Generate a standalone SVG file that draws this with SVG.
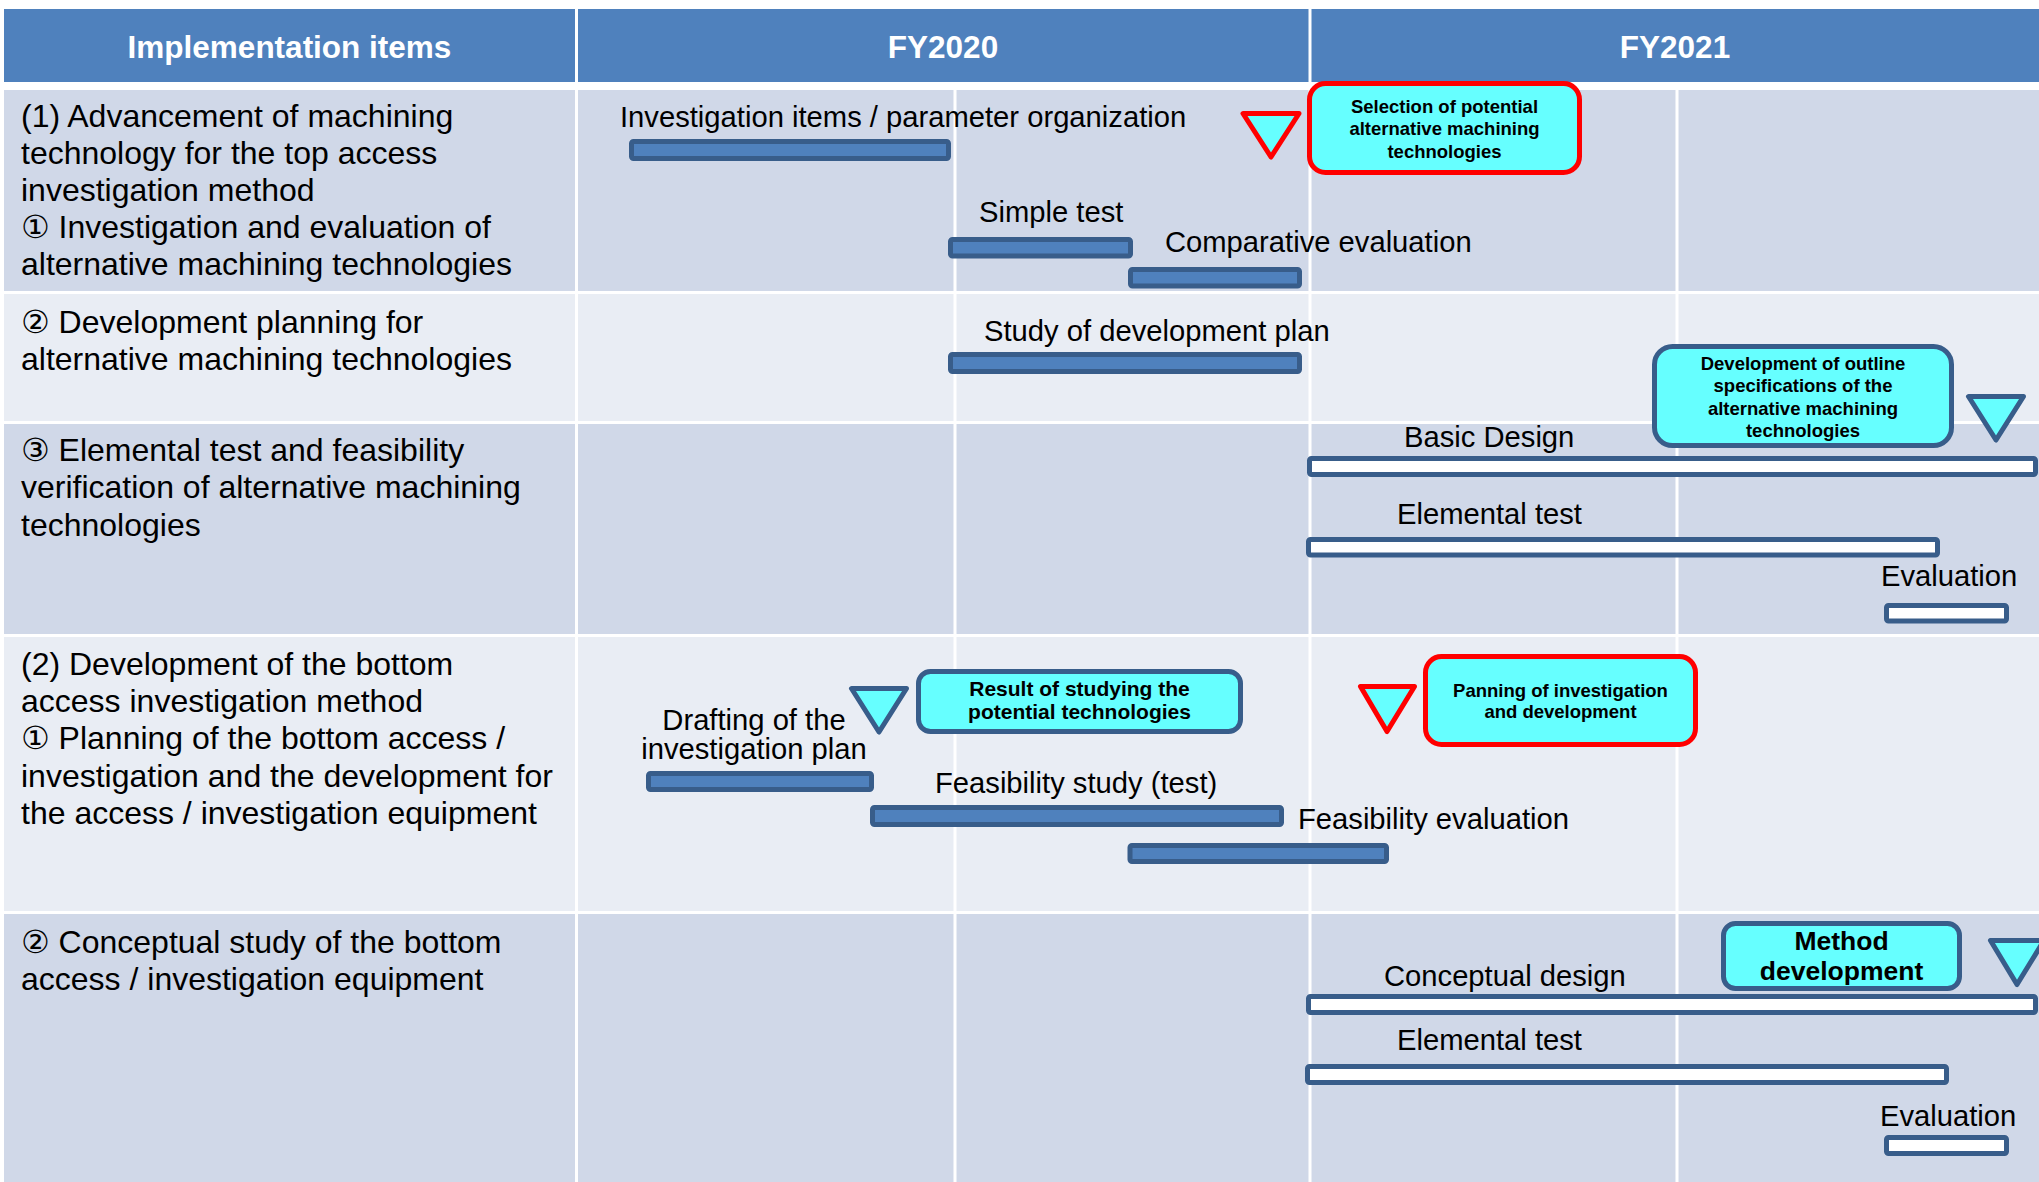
<svg xmlns="http://www.w3.org/2000/svg" width="2039" height="1182" viewBox="0 0 2039 1182">
<style>
text{font-family:"Liberation Sans",Arial,"DejaVu Sans",sans-serif;fill:#000}
.hd{fill:#4F81BD}
.hdt{font-size:31.5px;font-weight:bold;fill:#fff;text-anchor:middle}
.dk{fill:#D0D8E8}
.lt{fill:#E9EDF4}
.vl{stroke:#fff;stroke-width:3}
.item{font-size:32px}
.cd{font-family:"DejaVu Sans",sans-serif}
.lbl{font-size:29.2px}
.bar{fill:#4F81BD;stroke:#385D8A;stroke-width:5}
.wbar{fill:#fff;stroke:#385D8A;stroke-width:5}
.rbox{fill:#66FFFF;stroke:#FF0000;stroke-width:5}
.bbox{fill:#66FFFF;stroke:#385D8A;stroke-width:5}
.rtri{fill:#66FFFF;stroke:#FF0000;stroke-width:5;stroke-linejoin:round}
.btri{fill:#66FFFF;stroke:#385D8A;stroke-width:5;stroke-linejoin:round}
.bt{font-size:18.5px;font-weight:bold;text-anchor:middle}
</style>
<rect width="2039" height="1182" fill="#fff"/>
<g id="header">
<rect class="hd" x="4" y="9" width="571" height="73"/>
<rect class="hd" x="578" y="9" width="730.5" height="73"/>
<rect class="hd" x="1311.5" y="9" width="727.5" height="73"/>
<text class="hdt" x="289.5" y="58">Implementation items</text>
<text class="hdt" x="943" y="58">FY2020</text>
<text class="hdt" x="1675" y="58">FY2021</text>
</g>
<g id="grid">
<rect class="dk" x="4" y="90" width="571" height="201"/>
<rect class="dk" x="578" y="90" width="1461" height="201"/>
<rect class="lt" x="4" y="294" width="571" height="127"/>
<rect class="lt" x="578" y="294" width="1461" height="127"/>
<rect class="dk" x="4" y="424" width="571" height="210"/>
<rect class="dk" x="578" y="424" width="1461" height="210"/>
<rect class="lt" x="4" y="637" width="571" height="274"/>
<rect class="lt" x="578" y="637" width="1461" height="274"/>
<rect class="dk" x="4" y="914" width="571" height="268"/>
<rect class="dk" x="578" y="914" width="1461" height="268"/>
<line class="vl" x1="955" y1="90" x2="955" y2="1182"/>
<line class="vl" x1="1310" y1="90" x2="1310" y2="1182"/>
<line class="vl" x1="1677" y1="90" x2="1677" y2="1182"/>
</g>
<g id="items">
<text class="item" x="21" y="126.5">(1) Advancement of machining</text>
<text class="item" x="21" y="163.5">technology for the top access</text>
<text class="item" x="21" y="200.5">investigation method</text>
<text class="item" x="21" y="237.5"><tspan class="cd">①</tspan> Investigation and evaluation of</text>
<text class="item" x="21" y="274.5">alternative machining technologies</text>
<text class="item" x="21" y="332.5"><tspan class="cd">②</tspan> Development planning for</text>
<text class="item" x="21" y="369.5">alternative machining technologies</text>
<text class="item" x="21" y="460.5"><tspan class="cd">③</tspan> Elemental test and feasibility</text>
<text class="item" x="21" y="498">verification of alternative machining</text>
<text class="item" x="21" y="535.5">technologies</text>
<text class="item" x="21" y="675">(2) Development of the bottom</text>
<text class="item" x="21" y="712">access investigation method</text>
<text class="item" x="21" y="749"><tspan class="cd">①</tspan> Planning of the bottom access /</text>
<text class="item" x="21" y="786.5">investigation and the development for</text>
<text class="item" x="21" y="824">the access / investigation equipment</text>
<text class="item" x="21" y="952.5"><tspan class="cd">②</tspan> Conceptual study of the bottom</text>
<text class="item" x="21" y="990">access / investigation equipment</text>
</g>
<g id="task-investigation-items">
<text class="lbl" x="620" y="127">Investigation items / parameter organization</text>
<rect class="bar" x="631.5" y="141.5" width="317" height="17" rx="2"/>
</g>
<g id="milestone-selection">
<polygon class="rtri" points="1243,113.5 1299,113.5 1271,157"/>
<rect class="rbox" x="1309.5" y="83.5" width="270" height="89" rx="16"/>
<text class="bt" x="1444.5" y="112.5">Selection of potential</text>
<text class="bt" x="1444.5" y="135">alternative machining</text>
<text class="bt" x="1444.5" y="157.5">technologies</text>
</g>
<g id="task-simple-test">
<text class="lbl" x="979" y="222">Simple test</text>
<rect class="bar" x="950.5" y="239.5" width="180" height="16.5" rx="2"/>
</g>
<g id="task-comparative-evaluation">
<text class="lbl" x="1165" y="252">Comparative evaluation</text>
<rect class="bar" x="1130.5" y="269.5" width="169" height="16.5" rx="2"/>
</g>
<g id="task-study-development-plan">
<text class="lbl" x="984" y="341">Study of development plan</text>
<rect class="bar" x="950.5" y="354.5" width="349" height="17" rx="2"/>
</g>
<g id="milestone-outline-spec">
<rect class="bbox" x="1654.5" y="346.5" width="297" height="99" rx="18"/>
<text class="bt" x="1803" y="369.5">Development of outline</text>
<text class="bt" x="1803" y="392">specifications of the</text>
<text class="bt" x="1803" y="414.5">alternative machining</text>
<text class="bt" x="1803" y="437">technologies</text>
<polygon class="btri" points="1968.5,396.5 2023.5,396.5 1996,440"/>
</g>
<g id="task-basic-design">
<text class="lbl" x="1404" y="447">Basic Design</text>
<rect class="wbar" x="1309.5" y="458.5" width="726" height="16" rx="2"/>
</g>
<g id="task-elemental-test-1">
<text class="lbl" x="1397" y="524">Elemental test</text>
<rect class="wbar" x="1308.5" y="539.5" width="629" height="15.5" rx="2"/>
</g>
<g id="task-evaluation-1">
<text class="lbl" x="1881" y="586">Evaluation</text>
<rect class="wbar" x="1886.5" y="605.5" width="120" height="15.5" rx="2"/>
</g>
<g id="milestone-result-study">
<polygon class="btri" points="851.5,688.5 906.5,688.5 879,732"/>
<rect class="bbox" x="918.5" y="671.5" width="322" height="60" rx="12"/>
<text class="bt" style="font-size:21px" x="1079.5" y="696">Result of studying the</text>
<text class="bt" style="font-size:21px" x="1079.5" y="719">potential technologies</text>
</g>
<g id="task-drafting">
<text class="lbl" x="754" y="730" text-anchor="middle">Drafting of the</text>
<text class="lbl" x="754" y="759" text-anchor="middle">investigation plan</text>
<rect class="bar" x="648.5" y="773.5" width="223" height="16" rx="2"/>
</g>
<g id="task-feasibility-study">
<text class="lbl" x="935" y="793">Feasibility study (test)</text>
<rect class="bar" x="872.5" y="807.5" width="409" height="17" rx="2"/>
</g>
<g id="task-feasibility-evaluation">
<text class="lbl" x="1298" y="829">Feasibility evaluation</text>
<rect class="bar" x="1130" y="845.5" width="256.5" height="16" rx="2"/>
</g>
<g id="milestone-panning">
<polygon class="rtri" points="1360.5,686.5 1414.5,686.5 1387,731.5"/>
<rect class="rbox" x="1425.5" y="656.5" width="270" height="88" rx="16"/>
<text class="bt" x="1560.5" y="696.5">Panning of investigation</text>
<text class="bt" x="1560.5" y="718">and development</text>
</g>
<g id="milestone-method">
<rect class="bbox" x="1723.5" y="923.5" width="236" height="65" rx="12"/>
<text class="bt" style="font-size:26.5px" x="1841.5" y="950">Method</text>
<text class="bt" style="font-size:26.5px" x="1841.5" y="980">development</text>
<polygon class="btri" points="1990.5,940.5 2044,940.5 2017,984.5"/>
</g>
<g id="task-conceptual-design">
<text class="lbl" x="1384" y="986">Conceptual design</text>
<rect class="wbar" x="1308.5" y="996.5" width="727" height="16" rx="2"/>
</g>
<g id="task-elemental-test-2">
<text class="lbl" x="1397" y="1050">Elemental test</text>
<rect class="wbar" x="1307.5" y="1066.5" width="639" height="16" rx="2"/>
</g>
<g id="task-evaluation-2">
<text class="lbl" x="1880" y="1126">Evaluation</text>
<rect class="wbar" x="1886.5" y="1137.5" width="120" height="16" rx="2"/>
</g>
<g id="connectors"/>
</svg>
